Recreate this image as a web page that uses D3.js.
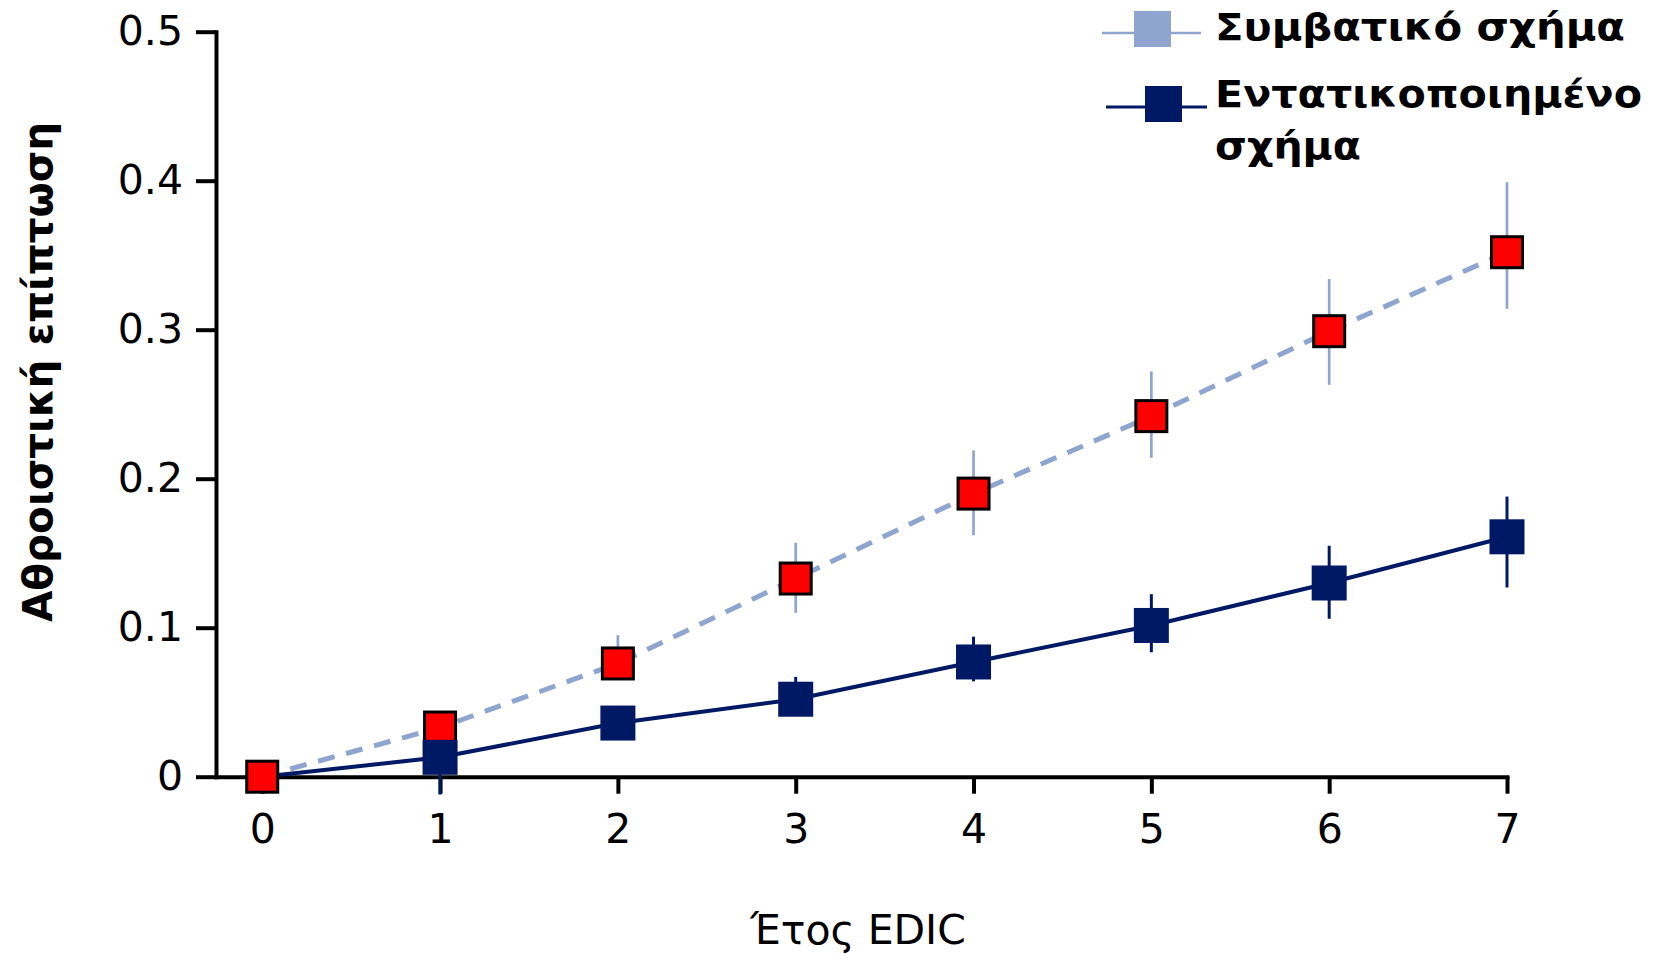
<!DOCTYPE html>
<html>
<head>
<meta charset="utf-8">
<script src="https://cdn.jsdelivr.net/npm/d3@7"></script>
<style>
    body { margin: 0; background: #fff; }
    svg { display: block; font-family: "DejaVu Sans", Verdana, sans-serif; }
</style>
</head>
<body>
<svg id="chart"></svg>
<script>
// data
const years = [0, 1, 2, 3, 4, 5, 6, 7]

const conventional = [0, 0.033, 0.076, 0.133, 0.190, 0.242, 0.299, 0.352]
const conventionalLow = [0, 0.026, 0.066, 0.110, 0.162, 0.214, 0.263, 0.314]
const conventionalHigh = [0, 0.042, 0.095, 0.157, 0.219, 0.272, 0.334, 0.399]

const intensive = [0, 0.013, 0.036, 0.052, 0.077, 0.1015, 0.130, 0.161]
const intensiveLow = [0, -0.012, 0.028, 0.041, 0.064, 0.0835, 0.106, 0.127]
const intensiveHigh = [0, 0.022, 0.045, 0.067, 0.094, 0.1225, 0.155, 0.188]

const yTicks = [0, 0.1, 0.2, 0.3, 0.4, 0.5]
const legendLabels = [["Συμβατικό σχήμα"], ["Εντατικοποιημένο", "σχήμα"]]
const yTitle = "Αθροιστική επίπτωση"
const xTitle = "Έτος EDIC"

const w = 1657
const h = 954
const lightBlue = "#8fa5d0"
const navy = "#001965"

const svg = d3.select("#chart")
    .attr("width", w)
    .attr("height", h)

const xScale = d3.scaleLinear()
    .domain([-0.26, 7])
    .range([216, 1507])

const yScale = d3.scaleLinear()
    .domain([0, 0.5])
    .range([776.7, 31.7])

//Axes
const axisBottom = d3.axisBottom(xScale)
    .tickValues(years)
    .tickSizeInner(17)
    .tickSizeOuter(0)
    .tickPadding(20)

const axisLeft = d3.axisLeft(yScale)
    .tickValues(yTicks)
    .tickFormat(d => d === 0 ? "0" : d3.format(".1f")(d))
    .tickSizeInner(20)
    .tickSizeOuter(0)
    .tickPadding(13)

const gx = svg.append("g")
    .attr("transform", `translate(0, ${yScale(0)})`)
    .call(axisBottom)

const gy = svg.append("g")
    .attr("transform", `translate(${xScale.range()[0]}, 0)`)
    .call(axisLeft)

for (const g of [gx, gy]) {
    g.select(".domain").attr("stroke", "#000").attr("stroke-width", 4).attr("stroke-linecap", "square")
    g.selectAll(".tick line").attr("stroke", "#000").attr("stroke-width", 4)
    g.selectAll(".tick text")
        .attr("font-family", "DejaVu Sans")
        .attr("font-size", 41)
        .attr("fill", "#000")
}

//Titles
svg.append("text")
    .attr("transform", "translate(52, 372) rotate(-90)")
    .attr("text-anchor", "middle")
    .attr("font-size", 41)
    .attr("font-weight", "bold")
    .attr("textLength", 500)
    .attr("lengthAdjust", "spacingAndGlyphs")
    .text(yTitle)

svg.append("text")
    .attr("x", 858)
    .attr("y", 944)
    .attr("text-anchor", "middle")
    .attr("font-size", 41)
    .text(xTitle)

//Lines
const convData = years.map((yr, i) => ({year: yr, v: conventional[i], lo: conventionalLow[i], hi: conventionalHigh[i]}))
const intData = years.map((yr, i) => ({year: yr, v: intensive[i], lo: intensiveLow[i], hi: intensiveHigh[i]}))

const line = d3.line()
    .x(d => xScale(d.year))
    .y(d => yScale(d.v))

svg.append("path")
    .datum(convData)
    .attr("d", line)
    .attr("fill", "none")
    .attr("stroke", lightBlue)
    .attr("stroke-width", 5)
    .attr("stroke-dasharray", "17,12")

svg.append("path")
    .datum(intData)
    .attr("d", line)
    .attr("fill", "none")
    .attr("stroke", navy)
    .attr("stroke-width", 4)

//Error bars
svg.selectAll(".err-conv")
    .data(convData.filter(d => d.hi > d.lo))
    .enter()
    .append("line")
    .attr("class", "err-conv")
    .attr("x1", d => xScale(d.year))
    .attr("x2", d => xScale(d.year))
    .attr("y1", d => yScale(d.lo))
    .attr("y2", d => yScale(d.hi))
    .attr("stroke", lightBlue)
    .attr("stroke-width", 2.7)

svg.selectAll(".err-int")
    .data(intData.filter(d => d.hi > d.lo))
    .enter()
    .append("line")
    .attr("class", "err-int")
    .attr("x1", d => xScale(d.year))
    .attr("x2", d => xScale(d.year))
    .attr("y1", d => yScale(d.lo))
    .attr("y2", d => yScale(d.hi))
    .attr("stroke", navy)
    .attr("stroke-width", 3)

//Markers
const redSize = 31
svg.selectAll(".m-conv")
    .data(convData)
    .enter()
    .append("rect")
    .attr("class", "m-conv")
    .attr("x", d => xScale(d.year) - redSize / 2)
    .attr("y", d => yScale(d.v) - redSize / 2)
    .attr("width", redSize)
    .attr("height", redSize)
    .attr("fill", "#ff0000")
    .attr("stroke", "#000")
    .attr("stroke-width", 3)

const navySize = 35
svg.selectAll(".m-int")
    .data(intData.filter(d => d.year > 0))
    .enter()
    .append("rect")
    .attr("class", "m-int")
    .attr("x", d => xScale(d.year) - navySize / 2)
    .attr("y", d => yScale(d.v) - navySize / 2)
    .attr("width", navySize)
    .attr("height", navySize)
    .attr("fill", navy)

//Legend
const legendItems = [
    {color: lightBlue, lineY: 33, boxX: 1134, boxY: 11, lineX1: 1102, lineX2: 1201, sw: 2.5, textY: 40, widths: [410]},
    {color: navy, lineY: 107, boxX: 1145, boxY: 86, lineX1: 1106, lineX2: 1207, sw: 3, textY: 107, widths: [427, 146]}
]

legendItems.forEach((it, i) => {
    const g = svg.append("g")
    g.append("line")
        .attr("x1", it.lineX1)
        .attr("x2", it.lineX2)
        .attr("y1", it.lineY)
        .attr("y2", it.lineY)
        .attr("stroke", it.color)
        .attr("stroke-width", it.sw)
    g.append("rect")
        .attr("x", it.boxX)
        .attr("y", it.boxY)
        .attr("width", 37)
        .attr("height", 36)
        .attr("fill", it.color)
    const t = g.append("text")
        .attr("x", 1215)
        .attr("y", it.textY)
        .attr("font-size", 37)
        .attr("font-weight", "bold")
    legendLabels[i].forEach((s, k) => {
        t.append("tspan")
            .attr("x", 1215)
            .attr("dy", k === 0 ? 0 : 52)
            .attr("textLength", it.widths[k])
            .attr("lengthAdjust", "spacingAndGlyphs")
            .text(s)
    })
})
</script>
</body>
</html>
